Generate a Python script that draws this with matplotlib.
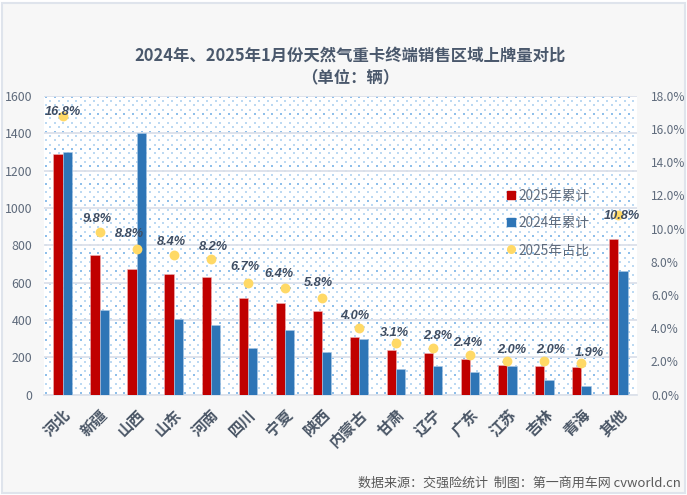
import matplotlib
matplotlib.use('Agg')
import matplotlib.pyplot as plt
from matplotlib.lines import Line2D
from matplotlib.patches import Rectangle
import numpy as np

plt.rcParams['font.family'] = ['Noto Sans CJK SC', 'DejaVu Sans']

regions = ['河北', '新疆', '山西', '山东', '河南', '四川', '宁夏', '陕西',
           '内蒙古', '甘肃', '辽宁', '广东', '江苏', '吉林', '青海', '其他']
sales_2025 = [1290, 750, 675, 645, 630, 515, 490, 445, 310, 240, 220, 190, 160, 155, 150, 835]
sales_2024 = [1300, 455, 1400, 405, 375, 250, 345, 230, 300, 135, 155, 120, 155, 80, 45, 660]
share_2025 = [16.8, 9.8, 8.8, 8.4, 8.2, 6.7, 6.4, 5.8, 4.0, 3.1, 2.8, 2.4, 2.0, 2.0, 1.9, 10.8]

# label shift from its dot, in pixels
label_dx = [0, -2, -7, -2, 3, -3, -6, -4, -4, -2, 5, -2, 4, 6, 8, 3]
label_dy = [4, 13, 15, 13, 12, 16, 14, 15, 12, 10, 12, 12, 11, 11, 10, -1]

W, H = 687, 495
AX_W, AX_H = 593, 298.5
tick_col = '#5f6b7c'
px = 72 / 100

fig = plt.figure(figsize=(W / 100, H / 100), dpi=100, facecolor='white')
fig.add_artist(Rectangle((2 / W, 2 / H), 683 / W, 490 / H, transform=fig.transFigure,
                         facecolor='#f7f7f7', edgecolor='#dfe4ec', linewidth=1.5, zorder=-1))

ax1 = fig.add_axes([44 / W, (H - 394.5) / H, AX_W / W, AX_H / H])
ax1.set_facecolor('white')

# dotted background, staggered rows
for row, y_px in enumerate(np.arange(2, AX_H, 4.35)):
    xs_px = np.arange(2 + (row % 2) * 4.35, AX_W, 8.7)
    ax1.scatter(xs_px / AX_W, np.full(len(xs_px), y_px / AX_H), transform=ax1.transAxes,
                s=0.8, marker='s', linewidths=0, zorder=0.4,
                color='#8fbfea' if row % 4 == 0 else '#bcd9f2')

x = np.arange(len(regions))
w = 0.25
ax1.bar(x - w / 2, sales_2025, w, color='#c00000', edgecolor='#f0b8b8', linewidth=0.4, zorder=3)
ax1.bar(x + w / 2, sales_2024, w, color='#2e75b6', edgecolor='#a9c8e6', linewidth=0.4, zorder=3)
ax1.set_xlim(-0.5, len(regions) - 0.5)
ax1.set_ylim(0, 1600)
ax1.set_yticks(range(0, 1601, 200))
ax1.grid(axis='y', color='#dce1ea', linewidth=1.3)
ax1.set_axisbelow(True)
ax1.set_xticks(x)
ax1.set_xticklabels(regions, rotation=45, ha='right', va='top', rotation_mode='anchor',
                    fontsize=11, weight='bold', color='#4a5666')
ax1.tick_params(axis='x', length=0, pad=8.5)
ax1.tick_params(axis='y', length=0, pad=8.6, labelsize=8.9, labelcolor=tick_col)
for s in ['top', 'left', 'right']:
    ax1.spines[s].set_visible(False)
ax1.spines['bottom'].set_color('#dce1ea')
ax1.spines['bottom'].set_linewidth(1.3)

ax2 = ax1.twinx()
ax2.scatter(x, share_2025, s=50, color='#ffd966', linewidths=0, zorder=4)
ax2.set_ylim(0, 18)
ax2.set_yticks(range(0, 19, 2))
ax2.set_yticklabels([f'{v:.1f}%' for v in range(0, 19, 2)])
ax2.tick_params(axis='y', length=0, pad=10, labelsize=8.6, labelcolor=tick_col)
for s in ['top', 'left', 'right', 'bottom']:
    ax2.spines[s].set_visible(False)

for i, v in enumerate(share_2025):
    ax2.annotate(f'{v:.1f}%', (x[i], v), xytext=(label_dx[i] * px, label_dy[i] * px),
                 textcoords='offset points', ha='center', va='center', fontsize=9.2,
                 family='Liberation Sans', style='italic', weight='bold', color='#3f4d62', zorder=5)

handles = [Line2D([], [], marker='s', linestyle='none', color='#c00000', markersize=5.2),
           Line2D([], [], marker='s', linestyle='none', color='#2e75b6', markersize=5.2),
           Line2D([], [], marker='o', linestyle='none', color='#ffd966', markersize=5.5)]
ax2.legend(handles, ['2025年累计', '2024年累计', '2025年占比'], frameon=False,
           loc='center left', bbox_to_anchor=(0.755, 0.5745), fontsize=9.85, labelspacing=0.97,
           handlelength=1.02, handletextpad=0.0, labelcolor=tick_col)

fig.text(350 / W, 1 - 56 / H, '2024年、2025年1月份天然气重卡终端销售区域上牌量对比',
         ha='center', va='center', fontsize=11.8, weight='bold', color='#4a586c')
fig.text(350 / W, 1 - 77 / H, '（单位：辆）', ha='center', va='center', fontsize=11.8,
         weight='bold', color='#4a586c')
fig.text(681 / W, 1 - 483 / H, '数据来源：交强险统计  制图：第一商用车网 cvworld.cn',
         ha='right', va='center', fontsize=9.4, color='#595959')

fig.savefig('out.png', dpi=100, facecolor=fig.get_facecolor())
